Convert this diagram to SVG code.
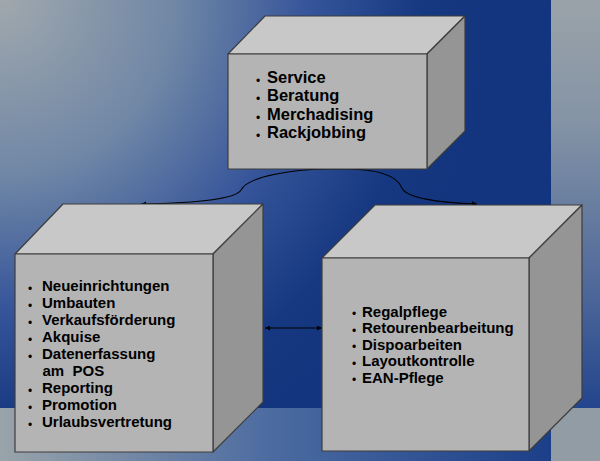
<svg xmlns="http://www.w3.org/2000/svg" width="600" height="461" viewBox="0 0 600 461">
<defs>
<radialGradient id="bgMain" gradientUnits="userSpaceOnUse" cx="0" cy="0" r="500">
<stop offset="0" stop-color="#a0a8ad"/>
<stop offset="0.35" stop-color="#7087a6"/>
<stop offset="0.62" stop-color="#35549a"/>
<stop offset="0.85" stop-color="#163880"/>
<stop offset="1" stop-color="#13347e"/>
</radialGradient>
<linearGradient id="bgRight" x1="0" y1="0" x2="0" y2="1">
<stop offset="0" stop-color="#9aa3a9"/>
<stop offset="0.3" stop-color="#8493a5"/>
<stop offset="0.7" stop-color="#4f699a"/>
<stop offset="1" stop-color="#23458d"/>
</linearGradient>
<linearGradient id="bgBottom" x1="0" y1="0" x2="1" y2="0">
<stop offset="0" stop-color="#99a3aa"/>
<stop offset="0.5" stop-color="#4a6aa0"/>
<stop offset="1" stop-color="#1c3f89"/>
</linearGradient>
<marker id="arr" viewBox="0 0 10 10" refX="10" refY="5" markerWidth="6" markerHeight="5" markerUnits="userSpaceOnUse" orient="auto-start-reverse">
<path d="M0,0 L10,5 L0,10 Z" fill="#000"/>
</marker>
<style>
.front{fill:#b4b4b4;stroke:#3c3c3c;stroke-width:1.2;stroke-linejoin:round}
.top{fill:#c8c8c8;stroke:#3c3c3c;stroke-width:1.2;stroke-linejoin:round}
.side{fill:#959595;stroke:#3c3c3c;stroke-width:1.2;stroke-linejoin:round}
.lbl{font-family:"Liberation Sans",Arial,sans-serif;font-weight:bold;font-size:15px;fill:#000}
.big{font-size:16.5px}
.bul{font-family:"Liberation Sans",Arial,sans-serif;font-size:12px;fill:#000}
.conn{fill:none;stroke:#000;stroke-width:1.1}
</style>
</defs>
<g id="background">
<rect x="0" y="0" width="551" height="408" fill="url(#bgMain)"/>
<rect x="551" y="0" width="49" height="408" fill="url(#bgRight)"/>
<rect x="0" y="408" width="551" height="53" fill="url(#bgBottom)"/>
<rect x="551" y="408" width="49" height="53" fill="#919ca4"/>
</g>
<g id="connectors">
<path class="conn" d="M141,204 C200,203 236,199 241,190 C248,176 295,169 330,169 L345,169 C378,169 397,176 402,188 C406,198 440,203 477,204" marker-start="url(#arr)" marker-end="url(#arr)"/>
<path class="conn" d="M265,328 L322,328" marker-start="url(#arr)" marker-end="url(#arr)"/>
</g>
<g id="node-top">
<polygon class="top" points="228,54 265,16 465,16 427,54"/>
<polygon class="side" points="427,54 465,16 465,131 427,169"/>
<rect class="front" x="228" y="54" width="199" height="115"/>
<text class="bul" x="256" y="84.5">•</text>
<text class="bul" x="256" y="102.5">•</text>
<text class="bul" x="256" y="121.5">•</text>
<text class="bul" x="256" y="139.5">•</text>
<text class="lbl big" x="267" y="83">Service</text>
<text class="lbl big" x="267" y="101">Beratung</text>
<text class="lbl big" x="267" y="120">Merchadising</text>
<text class="lbl big" x="267" y="138">Rackjobbing</text>
</g>
<g id="node-left">
<polygon class="top" points="15,254 63,204 263,204 213,254"/>
<polygon class="side" points="213,254 263,204 263,402 213,452"/>
<rect class="front" x="15" y="254" width="198" height="198"/>
<text class="bul" x="28" y="292.5">•</text>
<text class="bul" x="28" y="309.5">•</text>
<text class="bul" x="28" y="326.5">•</text>
<text class="bul" x="28" y="343.5">•</text>
<text class="bul" x="28" y="360.5">•</text>
<text class="bul" x="28" y="394.5">•</text>
<text class="bul" x="28" y="411.5">•</text>
<text class="bul" x="28" y="428.5">•</text>
<text class="lbl" x="42" y="291">Neueinrichtungen</text>
<text class="lbl" x="42" y="308">Umbauten</text>
<text class="lbl" x="42" y="325">Verkaufsförderung</text>
<text class="lbl" x="42" y="342">Akquise</text>
<text class="lbl" x="42" y="359">Datenerfassung</text>
<text class="lbl" x="42.5" y="376" xml:space="preserve">am  POS</text>
<text class="lbl" x="42" y="393">Reporting</text>
<text class="lbl" x="42" y="410">Promotion</text>
<text class="lbl" x="42" y="427">Urlaubsvertretung</text>
</g>
<g id="node-right">
<polygon class="top" points="322,258 375,205 582,205 529,258"/>
<polygon class="side" points="529,258 582,205 582,398 529,451"/>
<rect class="front" x="322" y="258" width="207" height="193"/>
<text class="bul" x="352" y="318">•</text>
<text class="bul" x="352" y="334.5">•</text>
<text class="bul" x="352" y="351">•</text>
<text class="bul" x="352" y="367.5">•</text>
<text class="bul" x="352" y="384">•</text>
<text class="lbl" x="362" y="316.5">Regalpflege</text>
<text class="lbl" x="362" y="333">Retourenbearbeitung</text>
<text class="lbl" x="362" y="349.5">Dispoarbeiten</text>
<text class="lbl" x="362" y="366">Layoutkontrolle</text>
<text class="lbl" x="362" y="382.5">EAN-Pflege</text>
</g>
</svg>
